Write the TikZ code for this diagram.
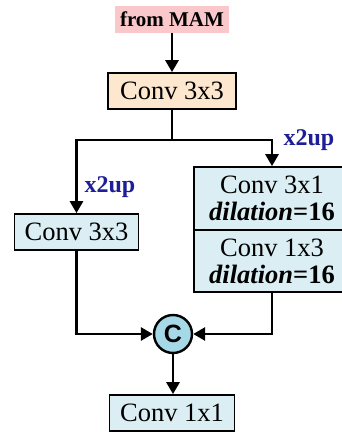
\documentclass[tikz,border=0pt]{standalone}
\usepackage{fontspec}
\setmainfont{Liberation Serif}
\newfontfamily\sansb{Liberation Sans}
\usetikzlibrary{arrows.meta}
\definecolor{mampink}{RGB}{250,200,202}
\definecolor{convbeige}{RGB}{253,232,207}
\definecolor{convblue}{RGB}{218,238,244}
\definecolor{circblue}{RGB}{165,217,232}
\definecolor{upblue}{RGB}{30,30,150}
\begin{document}
\begin{tikzpicture}[x=1pt,y=-1pt,
 box/.style={draw=black,line width=1.7pt,inner sep=0pt,align=center,font=\fontsize{26.5}{27}\selectfont},
 link/.style={line width=2.8pt},
 arr/.style={link,-{Triangle[length=12pt,width=13pt]}},
 uplabel/.style={text=upblue,font=\fontsize{24}{26}\selectfont\bfseries}]
\useasboundingbox (0,0) rectangle (342,432);
\fill[white] (0,0) rectangle (342,432);
\clip (0,0) rectangle (342,432);
\node[fill=mampink, minimum width=114pt, minimum height=27pt, inner sep=0pt, font=\fontsize{21}{22}\selectfont\bfseries] (mam) at (172,19) {from MAM};
\node[box, fill=convbeige, minimum width=128pt, minimum height=36pt] (conv1) at (172,91) {Conv 3x3};
\node[box, fill=convblue, minimum width=124pt, minimum height=36pt] (left) at (76.5,232) {Conv 3x3};
\node[box, fill=convblue, minimum width=156pt, minimum height=63pt] (r1) at (272,198.5) {Conv 3x1\\\textbf{\textit{dilation}=16}};
\node[box, fill=convblue, minimum width=156pt, minimum height=62pt] (r2) at (272,261) {Conv 1x3\\\textbf{\textit{dilation}=16}};
\node[circle, draw, line width=2.4pt, fill=circblue, minimum size=38pt, inner sep=0pt, font=\sansb\bfseries\fontsize{25}{25}\selectfont] (cc) at (173,334) {C};
\node[box, fill=convblue, minimum width=125pt, minimum height=36pt] (out) at (172,413) {Conv 1x1};
\node[uplabel] (upL) at (110,187) {x2up};
\node[uplabel] (upR) at (309,140) {x2up};
\coordinate (split) at (172,140);
\draw[arr] (mam.south) -- (conv1.north);
\draw[link] (conv1.south) -- (split);
\draw[arr] (split) -| (left.north);
\draw[arr] (split) -| (r1.north);
\draw[arr] (left.south) |- (cc.west);
\draw[arr] (r2.south) |- (cc.east);
\draw[arr] (cc.south) -- (cc.south |- out.north);
\end{tikzpicture}
\end{document}
